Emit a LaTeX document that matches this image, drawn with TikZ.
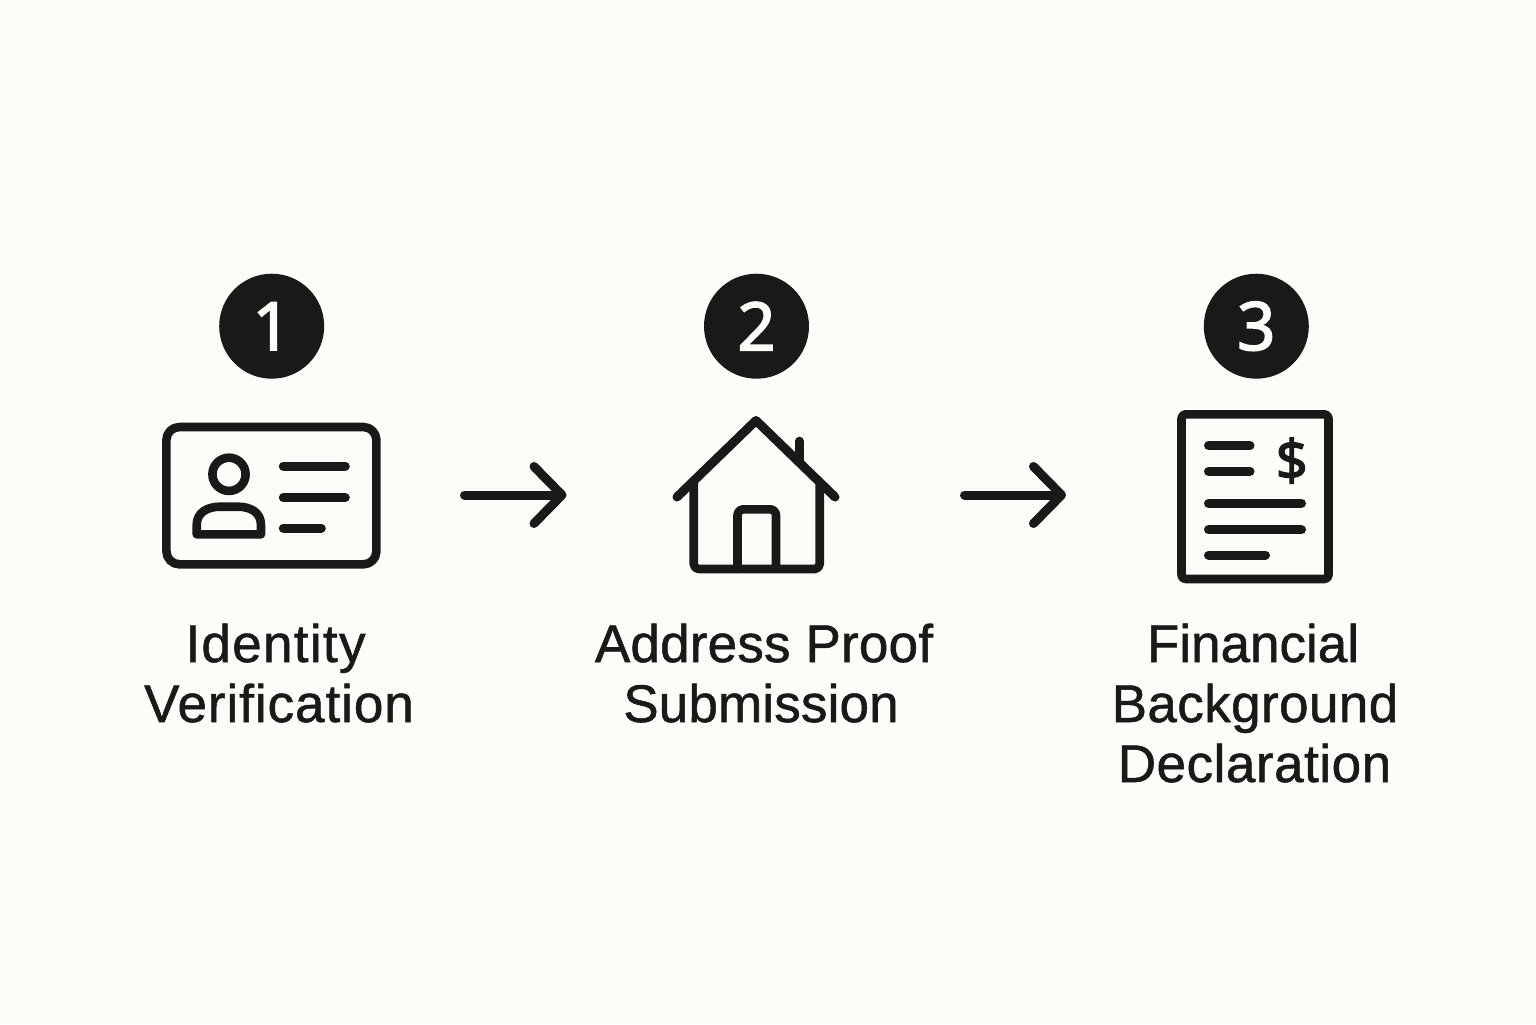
\documentclass[tikz,border=0pt]{standalone}
\usepackage{fontspec}
\setmainfont{Liberation Sans}
\newfontfamily\labelfont[FakeBold=1.0]{Liberation Sans}
\newfontfamily\numfont[FakeBold=2.2]{Noto Sans}
\newcommand\spaced[2]{{\addfontfeature{LetterSpace=#1}#2}}
\usetikzlibrary{arrows.meta}
\definecolor{ink}{HTML}{181A1A}
\definecolor{paper}{HTML}{FDFCF8}
\tikzset{
  x=0.5pt,y=-0.5pt,
  icon/.style={draw=ink,line width=4.3pt,line join=round,line cap=round},
  thinline/.style={draw=ink,line width=4.5pt,line cap=round},
  badge/.style={circle,fill=ink,minimum size=52.5pt,inner sep=0pt,text=paper,font=\numfont\fontsize{33.5}{33.5}\selectfont},
  steplabel/.style={text=ink,inner sep=0pt,anchor=base,font=\labelfont\fontsize{26.5}{30}\selectfont},
  flow/.style={draw=ink,line width=4.5pt,line cap=round,line join=round,
    -{Straight Barb[length=14pt,width=28.5pt,line cap=round,line join=round]}},
}
\begin{document}
\begin{tikzpicture}
\useasboundingbox[fill=paper] (0,0) rectangle (1536,1024);
% badges
\node[badge] (b1) at (271.7,326.2) {\raisebox{-0.7pt}{1}};
\node[badge] (b2) at (756.5,326.2) {\raisebox{-0.7pt}{2}};
\node[badge] (b3) at (1256.3,326.2) {\raisebox{-0.7pt}{3}};
% id card
\draw[icon,rounded corners=6.5pt] (166.4,427) rectangle (376.4,564.3);
\draw[icon] (229,474.3) circle[radius=8.3pt];
\draw[icon] (196.7,534.3) -- (196.7,525) .. controls (196.7,512) and (208,506.7) .. (220,506.7) -- (238,506.7) .. controls (250,506.7) and (261,512) .. (261,525) -- (261,534.3) -- cycle;
\draw[thinline] (283.3,466) -- (345.3,466);
\draw[thinline] (283.3,497.7) -- (345.3,497.7);
\draw[thinline] (283.3,528) -- (321.3,528);
% house
\draw[icon,rounded corners=2.5pt] (693.7,483) -- (693.7,569) -- (819.7,569) -- (819.7,483);
\draw[icon,rounded corners=3pt] (737.5,569) -- (737.5,509.3) -- (776,509.3) -- (776,569);
\draw[icon] (799.3,441) -- (799.3,462);
\draw[thinline,line join=round] (677,497) -- (756,420.5) -- (835,497);
% document
\draw[icon,rounded corners=2pt] (1181.5,414.3) rectangle (1328.5,579);
\draw[thinline] (1208.5,445.7) -- (1250,445.7);
\draw[thinline] (1208.5,471.3) -- (1250,471.3);
\draw[thinline] (1208.5,503.3) -- (1301.5,503.3);
\draw[thinline] (1208.5,529.7) -- (1301.5,529.7);
\draw[thinline] (1208.5,555) -- (1265.5,555);
\node[inner sep=0pt,text=ink,font=\numfont\fontsize{28}{28}\selectfont] (dollar) at (1291.7,460.7) {\$};
% arrows
\coordinate (a1s) at (464.5,495);
\coordinate (a1e) at (566.5,495);
\coordinate (a2s) at (964.5,495);
\coordinate (a2e) at (1066,495);
\draw[flow] (a1s) -- (a1e);
\draw[flow] (a2s) -- (a2e);
% labels
\node[steplabel] (l1a) at (275.5,662) {\spaced{2.5}{Identity}};
\node[steplabel] (l1b) at (279,722) {\spaced{1.8}{Verification}};
\node[steplabel] (l2a) at (764,662) {\spaced{0.4}{Address Proof}};
\node[steplabel] (l2b) at (761,722) {\spaced{0.3}{Submission}};
\node[steplabel] (l3a) at (1253,662) {Financial};
\node[steplabel] (l3b) at (1255,722) {\spaced{0.8}{Background}};
\node[steplabel] (l3c) at (1254.5,782) {\spaced{1}{Declaration}};
\end{tikzpicture}
\end{document}
